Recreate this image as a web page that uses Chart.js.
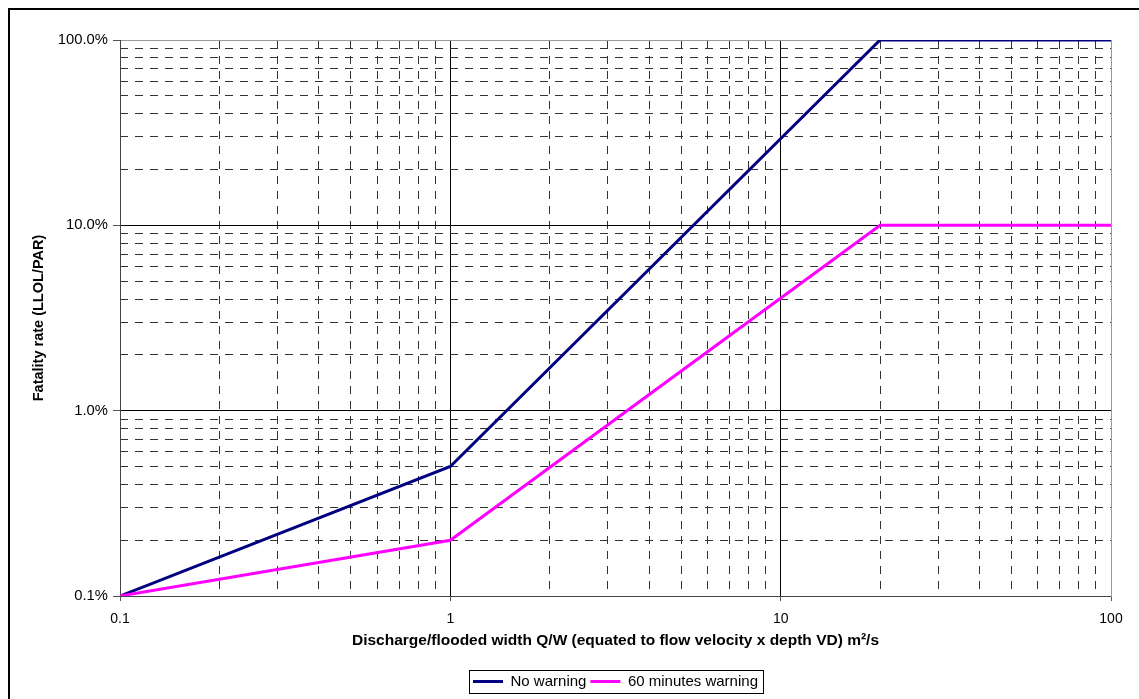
<!DOCTYPE html>
<html>
<head>
<meta charset="utf-8">
<script src="https://cdn.jsdelivr.net/npm/chart.js@4"></script>
<style>
  html, body { margin: 0; padding: 0; background: #fff; overflow: hidden; }
  #wrap { position: relative; width: 1139px; height: 699px; }
  #frame { position: absolute; left: 8px; top: 8px; width: 1200px; height: 800px;
           border-left: 2px solid #000; border-top: 2px solid #000; pointer-events: none; }
</style>
</head>
<body>
<div id="wrap">
  <canvas id="fatalityChart" width="1139" height="699"></canvas>
  <div id="frame"></div>
</div>
<script>
// Q/W break points (m²/s) and fatality rate as a fraction of PAR
const flowQW = [0.1, 1, 20, 100];
const rateNoWarning = [0.001, 0.005, 1, 1];
const rate60MinWarning = [0.001, 0.002, 0.1, 0.1];
const seriesNames = ['No warning', '60 minutes warning'];

// labelled decades on each axis
const xMajorTicks = [0.1, 1, 10, 100];
const yMajorTicks = [0.001, 0.01, 0.1, 1];

// 2..9 within each decade, for the dashed grid
function minorTicks(majors) {
    const out = [];
    for (let i = 0; i < majors.length - 1; i++) {
        for (let m = 2; m <= 9; m++) out.push({ value: majors[i] * m });
    }
    return out;
}

function toPoints(xs, ys) {
    return xs.map((x, i) => ({ x: x, y: ys[i] }));
}

Chart.defaults.font.family = "'Liberation Sans', Arial, sans-serif";
Chart.defaults.font.size = 14;
Chart.defaults.color = '#000';

// frame round the legend items
const legendFrame = {
    id: 'legendFrame',
    afterDraw(chart) {
        const boxes = chart.legend && chart.legend.legendHitBoxes;
        if (!boxes || !boxes.length) return;
        const left = Math.min(...boxes.map(b => b.left)) - 4;
        const right = Math.max(...boxes.map(b => b.left + b.width)) + 5;
        const mid = boxes[0].top + boxes[0].height / 2;
        const ctx = chart.ctx;
        ctx.save();
        ctx.strokeStyle = '#000';
        ctx.lineWidth = 1;
        ctx.strokeRect(Math.round(left) + 0.5, Math.round(mid - 11.5) + 0.5, Math.round(right - left), 23);
        ctx.restore();
    }
};

new Chart(document.getElementById('fatalityChart'), {
    type: 'line',
    data: {
        datasets: [{
            label: seriesNames[0],
            data: toPoints(flowQW, rateNoWarning),
            borderColor: '#000080',
            backgroundColor: '#000080',
            borderWidth: 3,
            pointRadius: 0,
            order: 1
        }, {
            label: seriesNames[1],
            data: toPoints(flowQW, rate60MinWarning),
            borderColor: '#ff00ff',
            backgroundColor: '#ff00ff',
            borderWidth: 3,
            pointRadius: 0,
            order: 0
        }]
    },
    options: {
        responsive: false,
        animation: false,
        layout: { padding: { left: 0, top: 40, right: 28, bottom: 0 } },
        plugins: {
            tooltip: { enabled: false },
            legend: {
                position: 'bottom',
                fullSize: false,
                labels: {
                    usePointStyle: true,
                    pointStyle: 'line',
                    pointStyleWidth: 30,
                    padding: 4,
                    color: '#000',
                    font: { size: 15 },
                    sort: (a, b) => a.datasetIndex - b.datasetIndex
                }
            }
        },
        scales: {
            x: {
                type: 'logarithmic',
                position: 'bottom',
                min: 0.1,
                max: 100,
                afterBuildTicks: s => { s.ticks = xMajorTicks.map(v => ({ value: v })); },
                afterFit: s => { s.height = 74; },
                ticks: {
                    autoSkip: false,
                    maxRotation: 0,
                    padding: 10,
                    font: { size: 14 },
                    callback: v => String(v)
                },
                grid: { color: '#000', tickColor: '#555', tickLength: 5 },
                border: { color: '#444', width: 1 },
                title: {
                    display: true,
                    text: 'Discharge/flooded width Q/W (equated to flow velocity x depth VD) m²/s',
                    font: { weight: 'bold', size: 15.5 },
                    padding: { top: 4, bottom: 20 }
                }
            },
            xMinor: {
                type: 'logarithmic',
                position: 'top',
                min: 0.1,
                max: 100,
                afterBuildTicks: s => { s.ticks = minorTicks(xMajorTicks); },
                afterFit: s => { s.height = 0; },
                ticks: { display: false },
                grid: { color: '#333', drawTicks: false },
                border: { color: '#999', width: 1, dash: [8, 7] }
            },
            y: {
                type: 'logarithmic',
                position: 'left',
                min: 0.001,
                max: 1,
                afterBuildTicks: s => { s.ticks = yMajorTicks.map(v => ({ value: v })); },
                afterFit: s => { s.width = 120; },
                ticks: {
                    autoSkip: false,
                    padding: 5,
                    font: { size: 14.8 },
                    callback: v => (v * 100).toFixed(1) + '%'
                },
                grid: { color: '#000', tickColor: '#555', tickLength: 7 },
                border: { color: '#444', width: 1 },
                title: {
                    display: true,
                    text: 'Fatality rate (LLOL/PAR)',
                    font: { weight: 'bold', size: 14.5 },
                    padding: { top: 30, bottom: 0 }
                }
            },
            yMinor: {
                type: 'logarithmic',
                position: 'right',
                min: 0.001,
                max: 1,
                afterBuildTicks: s => { s.ticks = minorTicks(yMajorTicks); },
                afterFit: s => { s.width = 0; },
                ticks: { display: false },
                grid: { color: '#333', drawTicks: false },
                border: { color: '#999', width: 1, dash: [8, 7] }
            }
        }
    },
    plugins: [legendFrame]
});
</script>
</body>
</html>
